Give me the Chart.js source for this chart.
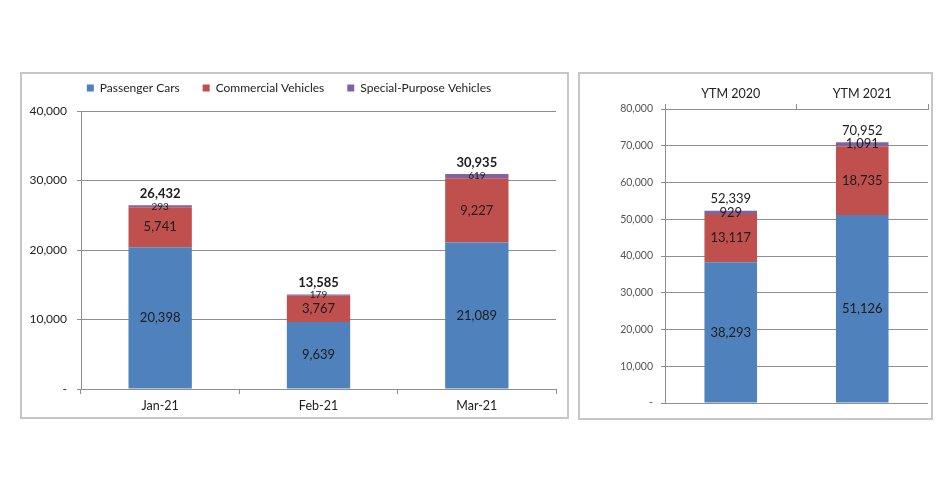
<!DOCTYPE html>
<html>
<head>
<meta charset="utf-8">
<script src="https://cdn.jsdelivr.net/npm/chart.js@4.4.1/dist/chart.umd.min.js"></script>
<style>
  body { margin: 0; background: #fff; width: 951px; height: 479px; position: relative; overflow: hidden; }
  .panel { position: absolute; border: 2px solid #c6c6c6; box-sizing: border-box; }
  #leftPanel { left: 20px; top: 72px; width: 549px; height: 347px; }
  #rightPanel { left: 578px; top: 72px; width: 355px; height: 348px; }
  .panel canvas { display: block; }
</style>
</head>
<body>
<div class="panel" id="leftPanel"><canvas id="monthChart" width="545" height="343"></canvas></div>
<div class="panel" id="rightPanel"><canvas id="ytmChart" width="351" height="344"></canvas></div>
<script>
    "use strict";

    var seriesNames = ["Passenger Cars", "Commercial Vehicles", "Special-Purpose Vehicles"];
    var seriesColors = ["#4f81bd", "#c0504d", "#8064a2"];

    var months = ["Jan-21", "Feb-21", "Mar-21"];
    var monthPassenger = [20398, 9639, 21089];
    var monthCommercial = [5741, 3767, 9227];
    var monthSpecial = [293, 179, 619];
    var monthTicks = [0, 10000, 20000, 30000, 40000];

    var ytmLabels = ["YTM 2020", "YTM 2021"];
    var ytmPassenger = [38293, 51126];
    var ytmCommercial = [13117, 18735];
    var ytmSpecial = [929, 1091];
    var ytmTicks = [0, 10000, 20000, 30000, 40000, 50000, 60000, 70000, 80000];

    var FONT = "Lato, 'Open Sans', sans-serif";
    var GRID = "#8e8e8e";

    function fmt(v) {
        return v.toLocaleString("en-US");
    }

    // value in the middle of every segment, total above each stack
    var stackLabels = {
        id: "stackLabels",
        afterDatasetsDraw: function (chart, args, opts) {
            var ctx = chart.ctx;
            var totals = [];
            ctx.save();
            ctx.textAlign = "center";
            ctx.textBaseline = "middle";
            ctx.fillStyle = opts.color;
            chart.data.datasets.forEach(function (ds, i) {
                var meta = chart.getDatasetMeta(i);
                ctx.font = opts.fonts[i];
                meta.data.forEach(function (bar, j) {
                    totals[j] = (totals[j] || 0) + ds.data[j];
                    ctx.fillText(fmt(ds.data[j]), bar.x, (bar.y + bar.base) / 2);
                });
            });
            ctx.font = opts.totalFont;
            var bars = chart.getDatasetMeta(0).data;
            totals.forEach(function (t, j) {
                ctx.fillText(fmt(t), bars[j].x, chart.scales.y.getPixelForValue(t) - opts.totalGap);
            });
            ctx.restore();
        }
    };

    // extra room under the legend
    var legendGap = {
        id: "legendGap",
        afterInit: function (chart) {
            if (!chart.legend) return;
            var fit = chart.legend.fit;
            chart.legend.fit = function () {
                fit.call(this);
                this.height += 7;
            };
        }
    };

    function makeDatasets(a, b, c) {
        return [a, b, c].map(function (d, i) {
            return {
                label: seriesNames[i],
                data: d,
                backgroundColor: seriesColors[i],
                borderWidth: 0,
                barPercentage: 0.4,
                categoryPercentage: 1
            };
        });
    }

    new Chart(document.getElementById("monthChart"), {
        type: "bar",
        data: {
            labels: months,
            datasets: makeDatasets(monthPassenger, monthCommercial, monthSpecial)
        },
        plugins: [stackLabels, legendGap],
        options: {
            responsive: false,
            animation: false,
            layout: { padding: { top: -15, right: 11, bottom: 0, left: 0 } },
            plugins: {
                legend: {
                    position: "top",
                    labels: {
                        boxWidth: 7,
                        boxHeight: 7,
                        padding: 23,
                        color: "#222",
                        font: { family: FONT, size: 12 }
                    }
                },
                tooltip: { enabled: false },
                stackLabels: {
                    color: "#1c1c1c",
                    fonts: ["13px " + FONT, "13px " + FONT, "10px " + FONT],
                    totalFont: "bold 13px " + FONT,
                    totalGap: 11.5
                }
            },
            scales: {
                x: {
                    stacked: true,
                    afterFit: function (s) { s.height = 28; },
                    grid: { display: true, drawOnChartArea: false, tickLength: 5, color: GRID },
                    border: { color: GRID },
                    ticks: { color: "#222", padding: 4, font: { family: FONT, size: 12.5 } }
                },
                y: {
                    stacked: true,
                    min: monthTicks[0],
                    max: monthTicks[monthTicks.length - 1],
                    afterFit: function (s) { s.width = 59; },
                    afterBuildTicks: function (s) {
                        s.ticks = monthTicks.map(function (v) { return { value: v }; });
                    },
                    grid: { color: GRID, tickLength: 4 },
                    border: { color: GRID },
                    ticks: {
                        color: "#222",
                        padding: 10,
                        font: { family: FONT, size: 12 },
                        callback: function (v) { return v === 0 ? "-" : fmt(v); }
                    }
                }
            }
        }
    });

    new Chart(document.getElementById("ytmChart"), {
        type: "bar",
        data: {
            labels: ytmLabels,
            datasets: makeDatasets(ytmPassenger, ytmCommercial, ytmSpecial)
        },
        plugins: [stackLabels],
        options: {
            responsive: false,
            animation: false,
            layout: { padding: { top: 0, right: 3, bottom: 15, left: 0 } },
            plugins: {
                legend: { display: false },
                tooltip: { enabled: false },
                stackLabels: {
                    color: "#1c1c1c",
                    fonts: ["13px " + FONT, "13px " + FONT, "13px " + FONT],
                    totalFont: "13px " + FONT,
                    totalGap: 11.5
                }
            },
            scales: {
                x: {
                    stacked: true,
                    position: "top",
                    afterFit: function (s) { s.height = 35; },
                    grid: { display: true, drawOnChartArea: false, tickLength: 5, color: GRID },
                    border: { color: GRID },
                    ticks: { color: "#222", padding: 3, font: { family: FONT, size: 12.5 } }
                },
                y: {
                    stacked: true,
                    min: ytmTicks[0],
                    max: ytmTicks[ytmTicks.length - 1],
                    afterFit: function (s) { s.width = 85; },
                    afterBuildTicks: function (s) {
                        s.ticks = ytmTicks.map(function (v) { return { value: v }; });
                    },
                    grid: { color: GRID, tickLength: 4 },
                    border: { color: GRID },
                    ticks: {
                        color: "#555",
                        padding: 8,
                        font: { family: FONT, size: 10.5 },
                        callback: function (v) { return v === 0 ? "-" : fmt(v); }
                    }
                }
            }
        }
    });
</script>
</body>
</html>
